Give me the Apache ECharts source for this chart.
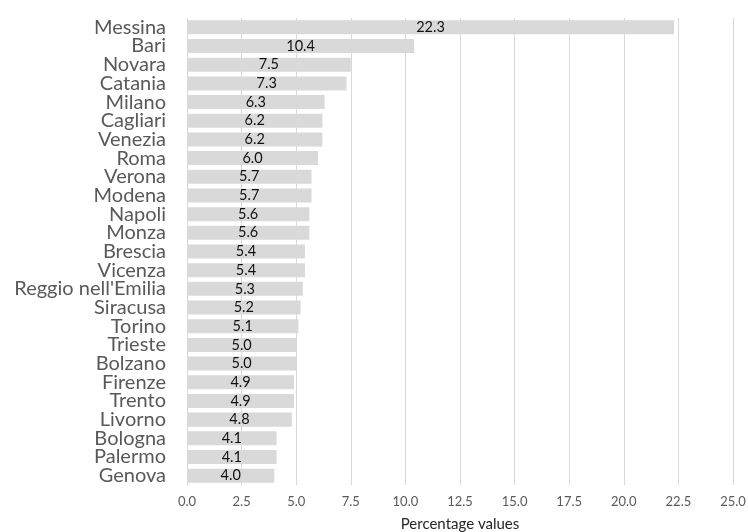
<!DOCTYPE html>
<html>
<head>
<meta charset="utf-8">
<script src="https://cdn.jsdelivr.net/npm/echarts@6/dist/echarts.min.js"></script>
<style>
  html, body { margin: 0; padding: 0; background: #ffffff; overflow: hidden; }
  #chart { width: 748px; height: 532px; }
</style>
</head>
<body>
<div id="chart"></div>
<script>
// Cities, ordered from highest to lowest share
const cities = [
  'Messina', 'Bari', 'Novara', 'Catania', 'Milano', 'Cagliari', 'Venezia', 'Roma',
  'Verona', 'Modena', 'Napoli', 'Monza', 'Brescia', 'Vicenza', "Reggio nell'Emilia",
  'Siracusa', 'Torino', 'Trieste', 'Bolzano', 'Firenze', 'Trento', 'Livorno',
  'Bologna', 'Palermo', 'Genova'
];

// Percentage values per city
const values = [
  22.3, 10.4, 7.5, 7.3, 6.3, 6.2, 6.2, 6.0,
  5.7, 5.7, 5.6, 5.6, 5.4, 5.4, 5.3,
  5.2, 5.1, 5.0, 5.0, 4.9, 4.9, 4.8,
  4.1, 4.1, 4.0
];

const axisTitle = 'Percentage values';

const chart = echarts.init(document.getElementById('chart'), null, {
  renderer: 'canvas', width: 748, height: 532
});

chart.setOption({
  animation: false,
  backgroundColor: '#ffffff',
  textStyle: { fontFamily: 'Lato, "Open Sans", sans-serif' },
  grid: {
    left: 187, width: 546, top: 18, height: 467,
    containLabel: false,
    outerBoundsMode: 'none'
  },
  xAxis: {
    type: 'value',
    min: 0,
    max: 25,
    interval: 2.5,
    name: axisTitle,
    nameLocation: 'middle',
    nameGap: 32,
    nameTextStyle: { color: '#262626', fontSize: 15 },
    axisLine: { show: false },
    axisTick: { show: false },
    axisLabel: {
      color: '#595959',
      fontSize: 13,
      margin: 10,
      formatter: v => v.toFixed(1)
    },
    splitLine: { show: true, lineStyle: { color: '#d9d9d9', width: 1 } }
  },
  yAxis: {
    type: 'category',
    data: cities,
    inverse: true,
    axisLine: { show: false },
    axisTick: { show: false },
    axisLabel: { color: '#595959', fontSize: 20, margin: 21, interval: 0 },
    splitLine: { show: false }
  },
  series: [{
    type: 'bar',
    data: values,
    barCategoryGap: '25%',
    itemStyle: { color: '#d9d9d9' },
    label: {
      show: true,
      position: 'inside',
      color: '#111111',
      fontSize: 14.5,
      formatter: p => p.value.toFixed(1)
    }
  }]
});
</script>
</body>
</html>
